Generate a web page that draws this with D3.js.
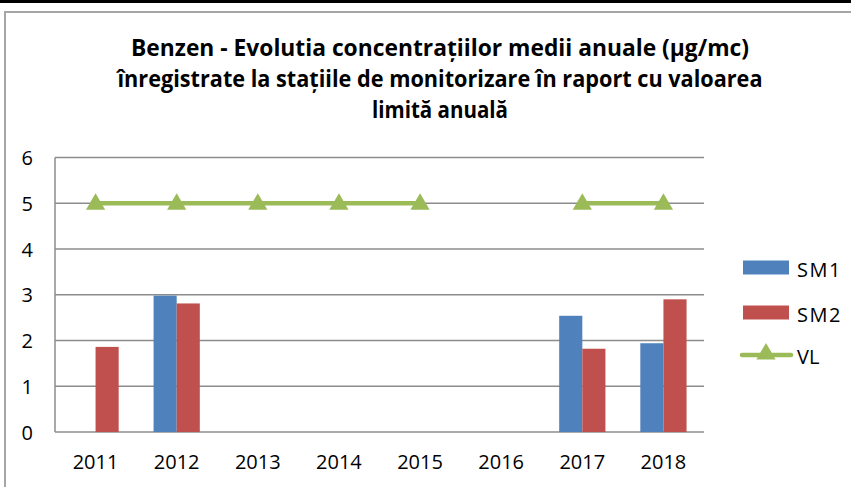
<!DOCTYPE html>
<html>
<head>
<meta charset="utf-8">
<script src="https://cdn.jsdelivr.net/npm/d3@7"></script>
<style>
  html, body { margin: 0; padding: 0; background: #fff; }
  svg { display: block; }
  text { font-family: "Open Sans", "Liberation Sans", sans-serif; fill: #000; }
</style>
</head>
<body>
<svg id="chart" width="851" height="487"></svg>
<script>
const years = ["2011", "2012", "2013", "2014", "2015", "2016", "2017", "2018"];
const seriesNames = ["SM1", "SM2"];
const sm1 = [null, 2.98, null, null, null, null, 2.54, 1.94];
const sm2 = [1.86, 2.81, null, null, null, null, 1.82, 2.90];
const vl = [5, 5, 5, 5, 5, null, 5, 5];
const yTicks = [0, 1, 2, 3, 4, 5, 6];
const titleLines = [
  "Benzen - Evolutia concentrațiilor medii anuale (µg/mc)",
  "înregistrate la stațiile de monitorizare în raport cu valoarea",
  "limită anuală"
];
const colors = { SM1: "#4F81BD", SM2: "#C0504D", VL: "#9BBB59" };

const svg = d3.select("#chart");

// outer decorations
svg.append("rect").attr("x", 0).attr("y", 0).attr("width", 851).attr("height", 3).attr("fill", "#000");
svg.append("path").attr("d", "M5,487 V12 H851").attr("fill", "none").attr("stroke", "#a6a6a6").attr("stroke-width", 2);

// title
const titleY = [56, 87, 118];
const titleW = [618, 645, 136];
titleLines.forEach((t, i) => {
  svg.append("text")
    .attr("x", 440).attr("y", titleY[i])
    .attr("text-anchor", "middle")
    .attr("font-family", "'Liberation Sans Narrow', 'Open Sans', sans-serif")
    .attr("font-size", 23).attr("font-weight", "bold")
    .attr("textLength", titleW[i]).attr("lengthAdjust", "spacingAndGlyphs")
    .text(t);
});

const plot = { left: 55, right: 704, top: 157.5, bottom: 432 };

const x = d3.scaleBand().domain(years).range([plot.left, plot.right]).paddingInner(0.43).paddingOuter(0.215);
const xs = d3.scaleBand().domain(seriesNames).range([0, x.bandwidth()]);
const y = d3.scaleLinear().domain([0, 6]).range([plot.bottom, plot.top]);

// gridlines
svg.append("g").selectAll("line").data(yTicks).join("line")
  .attr("x1", plot.left).attr("x2", plot.right)
  .attr("y1", d => y(d)).attr("y2", d => y(d))
  .attr("stroke", "#8c8c8c").attr("stroke-width", 1.5);

// y axis line
svg.append("line").attr("x1", plot.left).attr("x2", plot.left)
  .attr("y1", plot.top).attr("y2", plot.bottom)
  .attr("stroke", "#8c8c8c").attr("stroke-width", 1.5);

// y labels
const yAxis = d3.axisLeft(y).tickValues(yTicks).tickSize(0).tickPadding(0).tickFormat(d3.format("d"));
const gy = svg.append("g").attr("transform", "translate(33,0)").call(yAxis);
gy.select(".domain").remove();
gy.selectAll("text").attr("font-size", 20).attr("font-family", "'Open Sans', sans-serif").attr("dy", "0.36em");

// x labels
const xAxis = d3.axisBottom(x).tickSize(0).tickPadding(0);
const gx = svg.append("g").attr("transform", "translate(0,453)").call(xAxis);
gx.select(".domain").remove();
gx.selectAll("text").attr("font-size", 20).attr("font-family", "'Open Sans', sans-serif").attr("dy", "0.8em");

// bars
const barData = [];
years.forEach((yr, i) => {
  if (sm1[i] != null) barData.push({ year: yr, s: "SM1", v: sm1[i] });
  if (sm2[i] != null) barData.push({ year: yr, s: "SM2", v: sm2[i] });
});
svg.append("g").selectAll("rect").data(barData).join("rect")
  .attr("x", d => x(d.year) + xs(d.s))
  .attr("width", xs.bandwidth())
  .attr("y", d => y(d.v))
  .attr("height", d => y(0) - y(d.v))
  .attr("fill", d => colors[d.s]);

// VL line
const cx = yr => x(yr) + x.bandwidth() / 2;
const vlData = years.map((yr, i) => ({ year: yr, v: vl[i] }));
const line = d3.line().defined(d => d.v != null).x(d => cx(d.year)).y(d => y(d.v));
svg.append("path").datum(vlData).attr("d", line)
  .attr("fill", "none").attr("stroke", colors.VL).attr("stroke-width", 4.5);
const tri = d3.symbol().type(d3.symbolTriangle).size(160);
svg.append("g").selectAll("path").data(vlData.filter(d => d.v != null)).join("path")
  .attr("d", tri)
  .attr("transform", d => `translate(${cx(d.year)},${y(d.v) + 1})`)
  .attr("fill", colors.VL);

// legend
const lg = svg.append("g");
const legendItems = [
  { name: "SM1", type: "bar", cy: 267.5, ty: 277 },
  { name: "SM2", type: "bar", cy: 312.5, ty: 322 },
  { name: "VL", type: "line", cy: 355, ty: 364 }
];
legendItems.forEach(it => {
  if (it.type === "bar") {
    lg.append("rect").attr("x", 743).attr("y", it.cy - 7).attr("width", 46).attr("height", 14).attr("fill", colors[it.name]);
  } else {
    lg.append("line").attr("x1", 742).attr("x2", 791).attr("y1", it.cy).attr("y2", it.cy)
      .attr("stroke", colors.VL).attr("stroke-width", 4.5).attr("stroke-linecap", "round");
    lg.append("path").attr("d", tri).attr("transform", `translate(766,${it.cy - 1})`).attr("fill", colors.VL);
  }
  lg.append("text").attr("x", 797).attr("y", it.ty).attr("font-size", 20)
    .attr("letter-spacing", it.name === "VL" ? 0 : 1.5).text(it.name);
});
</script>
</body>
</html>
